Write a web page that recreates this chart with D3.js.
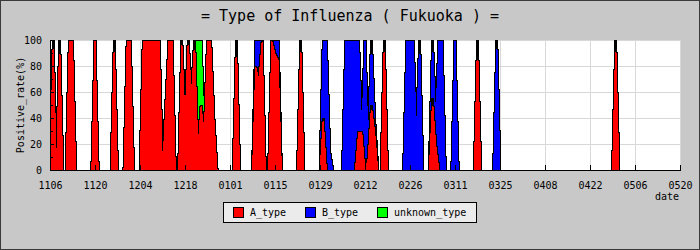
<!DOCTYPE html>
<html><head><meta charset="utf-8">
<script src="https://cdn.jsdelivr.net/npm/d3@7"></script>
<style>body{margin:0;background:#c8c8c8}svg{display:block}</style>
</head><body><svg id="c" width="700" height="250"></svg>
<script>
// one entry per reported day (MMDD, season 2011-2012); A/B/unknown positive rates in %
const dates = [
"1106","1107","1108","1109","1110","1111","1112","1113","1114",
"1119","1120","1121",
"1125","1126","1127",
"1129","1130","1201","1202",
"1204","1205","1206","1207","1208","1209","1210","1211","1212","1213","1214","1215",
"1216","1217","1218","1219","1220","1221","1222","1223","1224","1225","1226","1227","1228",
"0102","0103","0104",
"0108","0109","0110","0111","0112","0113","0114","0115","0116","0117",
"0122","0123","0124",
"0129","0130","0131","0201","0202",
"0205","0206","0207","0208","0209","0210","0211","0212","0213","0214","0215","0216",
"0217","0218","0219",
"0224","0225","0226","0227","0228","0229","0301",
"0303","0304","0305","0306","0307","0308",
"0310","0311","0312",
"0317","0318","0319",
"0323","0324","0325",
"0429","0430","0501"];
const aType = [
0,100,0,100,0,0,100,100,0,
0,100,0,
0,100,0,
0,100,100,0,
0,100,100,100,100,100,100,0,50,100,100,0,
0,100,40,100,60,100,17,50,30,100,100,40,0,
0,100,0,
0,80,70,100,0,0,100,90,85,0,
0,100,0,
0,40,0,0,0,
0,0,0,0,0,30,30,0,10,50,30,0,
0,100,0,
0,0,0,0,0,0,0,
0,55,20,0,0,0,
0,0,0,
0,100,0,
0,0,0,
0,100,0];
const bType = [
0,0,0,0,0,0,0,0,0,
0,0,0,
0,0,0,
0,0,0,0,
0,0,0,0,0,0,0,0,0,0,0,0,
0,0,0,0,0,0,0,0,0,0,0,0,0,
0,0,0,
0,20,30,0,0,0,0,10,15,0,
0,0,0,
0,60,100,15,0,
0,100,100,100,100,70,0,100,10,50,10,0,
0,0,0,
0,100,100,100,30,100,0,
0,45,20,100,100,0,
0,100,0,
0,0,0,
0,100,0,
0,0,0];
const unknownType = [
0,0,0,0,0,0,0,0,0,
0,0,0,
0,0,0,
0,0,0,0,
0,0,0,0,0,0,0,0,0,0,0,0,
0,0,0,0,0,0,83,50,0,0,0,0,0,
0,0,0,
0,0,0,0,0,0,0,0,0,0,
0,0,0,
0,0,0,0,0,
0,0,0,0,0,0,0,0,0,0,0,0,
0,0,0,
0,0,0,0,0,0,0,
0,0,0,0,0,0,
0,0,0,
0,0,0,
0,0,0,
0,0,0];
const tickLabels = ["1106","1120","1204","1218","0101","0115","0129","0212","0226","0311","0325","0408","0422","0506","0520"];
const yTicks = [0,20,40,60,80,100];
const yMinorTicks = [10,30,50,70,90];
const seriesNames = ["A_type","B_type","unknown_type"];
const seriesColors = ["#ff0000","#0000ff","#00ff00"];

const svg = d3.select("#c");
const W = 700, H = 250;
const L = 50, R = 680, T = 40, B = 170;
const font = "'DejaVu Sans Mono', monospace";
const parse = d3.utcParse("%Y-%m-%d");
const toDate = s => parse((+s.slice(0,2) >= 11 ? "2011-" : "2012-") + s.slice(0,2) + "-" + s.slice(2));
const tickDates = tickLabels.map(toDate);

svg.append("rect").attr("x",0.5).attr("y",0.5).attr("width",W-1).attr("height",H-1)
  .attr("fill","#c8c8c8").attr("stroke","#3a3a3a");

const x = d3.scaleUtc().domain([tickDates[0], tickDates[tickDates.length-1]]).range([L, R]);
const y = d3.scaleLinear().domain([0,100]).range([B, T]);

svg.append("rect").attr("x",L).attr("y",T).attr("width",R-L).attr("height",B-T).attr("fill","#ffffff");

// grid
const g = svg.append("g").attr("shape-rendering","crispEdges");
g.selectAll(".hg").data(yTicks.filter(v=>v>0)).join("line")
  .attr("x1",L).attr("x2",R).attr("y1",d=>y(d)+0.5).attr("y2",d=>y(d)+0.5).attr("stroke","#d8d8d8");
g.selectAll(".vg").data(tickDates.slice(1)).join("line")
  .attr("x1",d=>Math.round(x(d))+0.5).attr("x2",d=>Math.round(x(d))+0.5).attr("y1",T).attr("y2",B).attr("stroke","#d8d8d8");

// data: stacked series joined linearly, rasterised per pixel column (as the original bitmap does)
const rows = dates.map((d,i)=>({date:toDate(d), A:aType[i], B:bType[i], U:unknownType[i]}));
const stack = d3.stack().keys(["A","B","U"])(rows);
const tms = rows.map(r=>+r.date);
function cumAt(k, t) {
  const n = tms.length;
  if (t < tms[0] || t > tms[n-1]) return 0;
  const i = Math.min(Math.max(d3.bisectRight(tms, t), 1), n-1);
  const f = (t - tms[i-1]) / (tms[i] - tms[i-1]);
  return d3.interpolateNumber(stack[k][i-1][1], stack[k][i][1])(f);
}
const NC = R - L;
const Hk = stack.map(()=>new Array(NC).fill(0));
for (let c = 0; c < NC; c++) {
  const t0 = +x.invert(L + c), t1 = +x.invert(L + c + 1);
  stack.forEach((s,k)=>{
    let m = Math.max(cumAt(k,t0), cumAt(k,t1));
    tms.forEach((t,i)=>{ if (t > t0 && t < t1) m = Math.max(m, s[i][1]); });
    Hk[k][c] = m;
  });
}
const fills = [], outl = [];
const py = v => Math.round(y(v));
for (let c = 0; c < NC; c++) {
  stack.forEach((s,k)=>{
    const lo = k ? Hk[k-1][c] : 0, hi = Hk[k][c];
    if (py(lo) - py(hi) > 0) fills.push({c, k, y1: py(hi), y0: py(lo)});
    const h = Hk[k][c];
    const m = Math.max(c > 0 ? Hk[k][c-1] : 0, c < NC-1 ? Hk[k][c+1] : 0);
    if (h <= 0 && m <= 0) return;
    if (m > h) outl.push({c, y1: py(m), y0: py(h) + 1});
    else outl.push({c, y1: py(h), y0: Math.max(py(m), py(h) + 1)});
  });
}
const dg = svg.append("g").attr("shape-rendering","crispEdges");
dg.selectAll("rect.f").data(fills).join("rect").attr("class","f")
  .attr("x",d=>L+d.c).attr("width",1).attr("y",d=>d.y1).attr("height",d=>d.y0-d.y1)
  .attr("fill",d=>seriesColors[d.k]);
dg.selectAll("rect.o").data(outl).join("rect").attr("class","o")
  .attr("x",d=>L+d.c).attr("width",1).attr("y",d=>d.y1).attr("height",d=>Math.max(1,d.y0-d.y1))
  .attr("fill","#000");

// axes
const xAxis = d3.axisBottom(x).tickValues(tickDates).tickFormat((d,i)=>tickLabels[i]).tickSizeInner(-5).tickSizeOuter(0).tickPadding(12);
const xg = svg.append("g").attr("transform",`translate(0,${B})`).call(xAxis);
xg.selectAll("text").attr("font-family",font).attr("font-size",10).attr("fill","#000");
xg.selectAll("line,path").attr("stroke","#000").attr("shape-rendering","crispEdges");

const yAxis = d3.axisLeft(y).tickValues(yTicks).tickSizeInner(-4).tickSizeOuter(0).tickPadding(8);
const yg = svg.append("g").attr("transform",`translate(${L},0)`).call(yAxis);
yg.selectAll("text").attr("font-family",font).attr("font-size",10).attr("fill","#000");
yg.selectAll("line,path").attr("stroke","#000").attr("shape-rendering","crispEdges");
const yMinor = d3.axisLeft(y).tickValues(yMinorTicks).tickFormat("").tickSizeInner(-3).tickSizeOuter(0);
const ymg = svg.append("g").attr("transform",`translate(${L},0)`).call(yMinor);
ymg.select(".domain").remove();
ymg.selectAll("line").attr("stroke","#000").attr("shape-rendering","crispEdges");

// titles
svg.append("text").attr("x",W/2).attr("y",21).attr("text-anchor","middle")
  .attr("font-family",font).attr("font-size",15).text("= Type of Influenza ( Fukuoka ) =");
svg.append("text").attr("transform",`translate(24,${(T+B)/2}) rotate(-90)`).attr("text-anchor","middle")
  .attr("font-family",font).attr("font-size",10).text("Positive_rate(%)");
svg.append("text").attr("x",679).attr("y",200).attr("text-anchor","end")
  .attr("font-family",font).attr("font-size",10).text("date");

// legend
const lg = svg.append("g").attr("shape-rendering","crispEdges");
lg.append("rect").attr("x",223.5).attr("y",202.5).attr("width",253).attr("height",20).attr("fill","#ebebeb").attr("stroke","#000");
const legX = [233, 305, 377];
seriesNames.forEach((n,i)=>{
  lg.append("rect").attr("x",legX[i]+0.5).attr("y",207.5).attr("width",10).attr("height",10).attr("fill",seriesColors[i]).attr("stroke","#000");
  lg.append("text").attr("x",legX[i]+17).attr("y",216).attr("font-family",font).attr("font-size",10).text(n);
});
</script>
</body></html>
